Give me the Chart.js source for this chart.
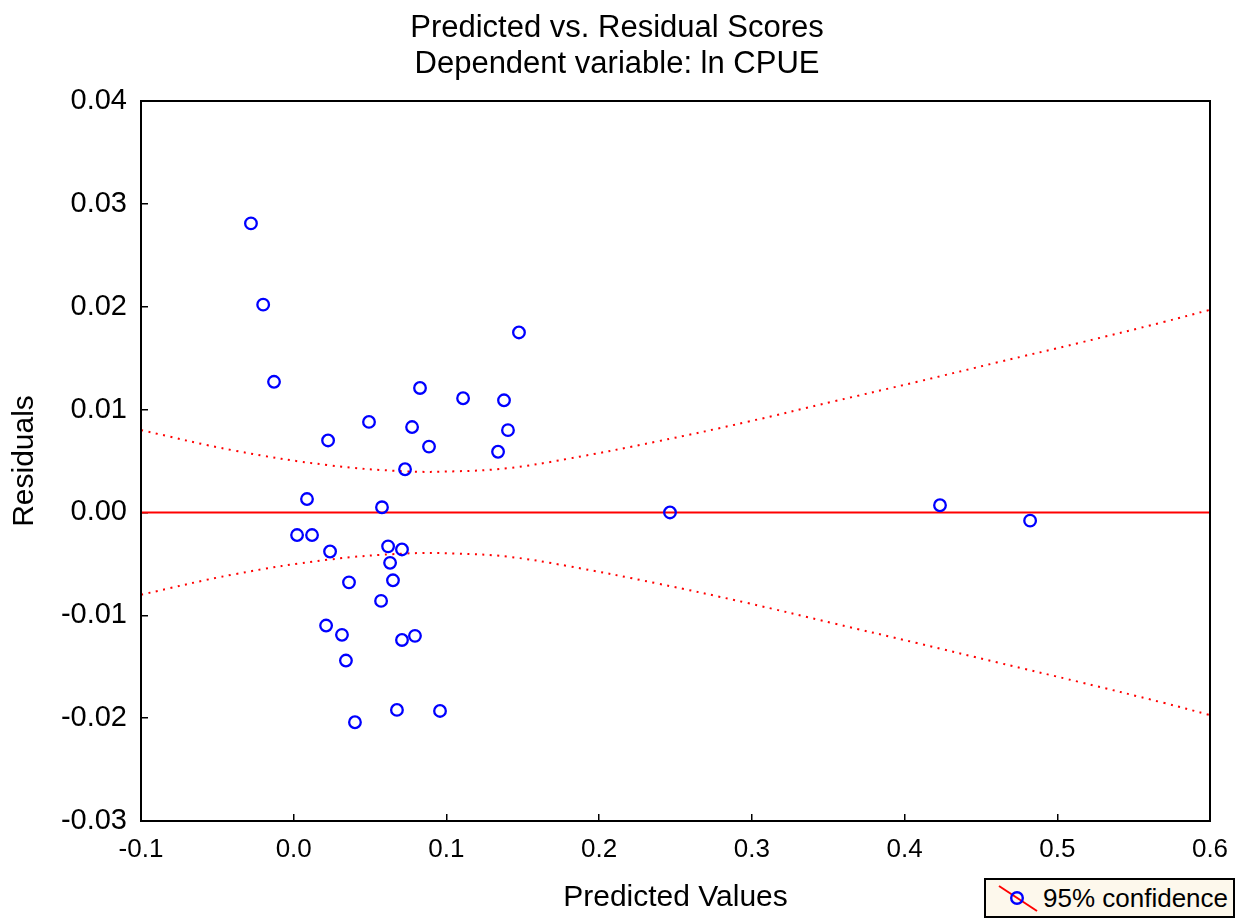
<!DOCTYPE html>
<html>
<head>
<meta charset="utf-8">
<script src="https://cdn.jsdelivr.net/npm/chart.js@4/dist/chart.umd.min.js"></script>
<style>
  html, body { margin: 0; padding: 0; background: #fff; }
  #wrap { position: relative; width: 1243px; height: 918px; }
  #legend {
    position: absolute; left: 984px; top: 878px; width: 251px; height: 40px;
    border: 2px solid #000; background: #fdf8ec; box-sizing: border-box;
    font: 26px "Liberation Sans", Arial, sans-serif; color: #000;
    display: flex; align-items: center; white-space: nowrap;
  }
  #legend svg { margin-left: 11px; margin-right: 4px; }
</style>
</head>
<body>
<div id="wrap">
  <canvas id="chart" width="1243" height="918"></canvas>
  <div id="legend">
    <svg width="42" height="30" viewBox="0 0 42 30">
      <line x1="2" y1="3" x2="40" y2="28" stroke="#ff0000" stroke-width="2"/>
      <circle cx="20" cy="15" r="5.8" fill="none" stroke="#0000ff" stroke-width="2.4"/>
    </svg>
    <span>95% confidence</span>
  </div>
</div>
<script>
// observed cases: predicted value vs residual
var predicted = [-0.028, -0.020, -0.0129, 0.0225, 0.0493, 0.0775, 0.0827, 0.0886, 0.1109, 0.1377,
                 0.1403, 0.1338, 0.1475, 0.0729, 0.0087, 0.0578, 0.0022, 0.0120, 0.0238, 0.0618,
                 0.0709, 0.0631, 0.0362, 0.0650, 0.0572, 0.0212, 0.0316, 0.0709, 0.0794, 0.0342,
                 0.0676, 0.0958, 0.0401, 0.2464, 0.4232, 0.4822];
var residuals = [0.0281, 0.0202, 0.0127, 0.0070, 0.0088, 0.0083, 0.0121, 0.0064, 0.0111, 0.0109,
                 0.0080, 0.0059, 0.0175, 0.0042, 0.0013, 0.0005, -0.0022, -0.0022, -0.0038, -0.0033,
                 -0.0036, -0.0049, -0.0068, -0.0066, -0.0086, -0.0110, -0.0119, -0.0124, -0.0120, -0.0144,
                 -0.0192, -0.0193, -0.0204, 0.0000, 0.0007, -0.0008];

// 95% confidence band
var bandX     = [-0.1, -0.0384, 0.0225, 0.0729, 0.1063, 0.140, 0.179, 0.2379, 0.2969, 0.3538, 0.4082, 0.4612, 0.5149, 0.5693, 0.6];
var bandUpper = [0.0080, 0.0060, 0.0046, 0.0040, 0.0040, 0.0043, 0.0052, 0.0069, 0.0088, 0.0108, 0.0127, 0.0146, 0.0165, 0.0185, 0.0197];
var bandLower = [-0.0080, -0.0060, -0.0046, -0.0040, -0.0040, -0.0043, -0.0052, -0.0069, -0.0088, -0.0108, -0.0127, -0.0146, -0.0165, -0.0185, -0.0197];

// zero residual line
var zeroX = [-0.1, 0.6];
var zeroY = [0, 0];

var xTicks = { min: -0.1, max: 0.6, step: 0.1 };
var yTicks = { min: -0.03, max: 0.04, step: 0.01 };

var FONT = '"Liberation Sans", Arial, sans-serif';

function pairs(xs, ys) {
    return xs.map(function (x, i) { return { x: x, y: ys[i] }; });
}

function fmt(v, d) {
    if (Math.abs(v) < 1e-9) v = 0;
    return Number(v).toFixed(d);
}

// box around the plot + the two title lines
var framePlugin = {
    id: 'frame',
    afterDraw: function (chart) {
        var ctx = chart.ctx, a = chart.chartArea;
        ctx.save();
        ctx.strokeStyle = '#000';
        ctx.lineWidth = 2;
        ctx.strokeRect(a.left, a.top, a.right - a.left, a.bottom - a.top);
        ctx.fillStyle = '#000';
        ctx.font = '31px ' + FONT;
        ctx.textAlign = 'center';
        ctx.textBaseline = 'alphabetic';
        ctx.fillText('Predicted vs. Residual Scores', 617, 37);
        ctx.fillText('Dependent variable: ln CPUE', 617, 73);
        ctx.restore();
    }
};

var dotted = {
    borderColor: '#ff0000', borderWidth: 2, borderDash: [2, 5.5],
    pointRadius: 0, showLine: true, fill: false, tension: 0.4
};

new Chart(document.getElementById('chart'), {
    type: 'scatter',
    data: {
        datasets: [
            {
                data: pairs(predicted, residuals),
                borderColor: '#0000ff', backgroundColor: 'rgba(0,0,0,0)',
                pointRadius: 5.8, pointBorderWidth: 2.3, order: 0
            },
            {
                data: pairs(zeroX, zeroY),
                borderColor: '#ff0000', borderWidth: 2, pointRadius: 0, showLine: true, order: 1
            },
            Object.assign({ data: pairs(bandX, bandUpper), order: 2 }, dotted),
            Object.assign({ data: pairs(bandX, bandLower), order: 3 }, dotted)
        ]
    },
    options: {
        responsive: false,
        animation: false,
        devicePixelRatio: 1,
        layout: { padding: { left: 0, top: 101, right: 33, bottom: 0 } },
        plugins: {
            legend: { display: false },
            tooltip: { enabled: false },
            title: { display: false }
        },
        scales: {
            x: {
                type: 'linear',
                min: xTicks.min, max: xTicks.max,
                afterFit: function (s) { s.height = 97; s.paddingLeft = 0; s.paddingRight = 0; },
                grid: { drawOnChartArea: false, drawTicks: true, tickLength: -7, color: '#000', lineWidth: 1.5 },
                border: { display: true, color: '#000', width: 2 },
                ticks: {
                    stepSize: xTicks.step, padding: 20, color: '#000',
                    font: { family: FONT, size: 26 },
                    callback: function (v) { return fmt(v, 1); }
                },
                title: {
                    display: true, text: 'Predicted Values', color: '#000',
                    font: { family: FONT, size: 30 }, padding: { top: 0, bottom: 2 }
                }
            },
            y: {
                type: 'linear',
                min: yTicks.min, max: yTicks.max,
                afterFit: function (s) { s.width = 141; s.paddingTop = 0; s.paddingBottom = 0; },
                grid: { drawOnChartArea: false, drawTicks: true, tickLength: -7, color: '#000', lineWidth: 1.5 },
                border: { display: true, color: '#000', width: 2 },
                ticks: {
                    stepSize: yTicks.step, padding: 21, color: '#000',
                    font: { family: FONT, size: 29 },
                    callback: function (v) { return fmt(v, 2); }
                },
                title: {
                    display: true, text: 'Residuals', color: '#000',
                    font: { family: FONT, size: 30 }, padding: { top: 7, bottom: 0 }
                }
            }
        }
    },
    plugins: [framePlugin]
});
</script>
</body>
</html>
